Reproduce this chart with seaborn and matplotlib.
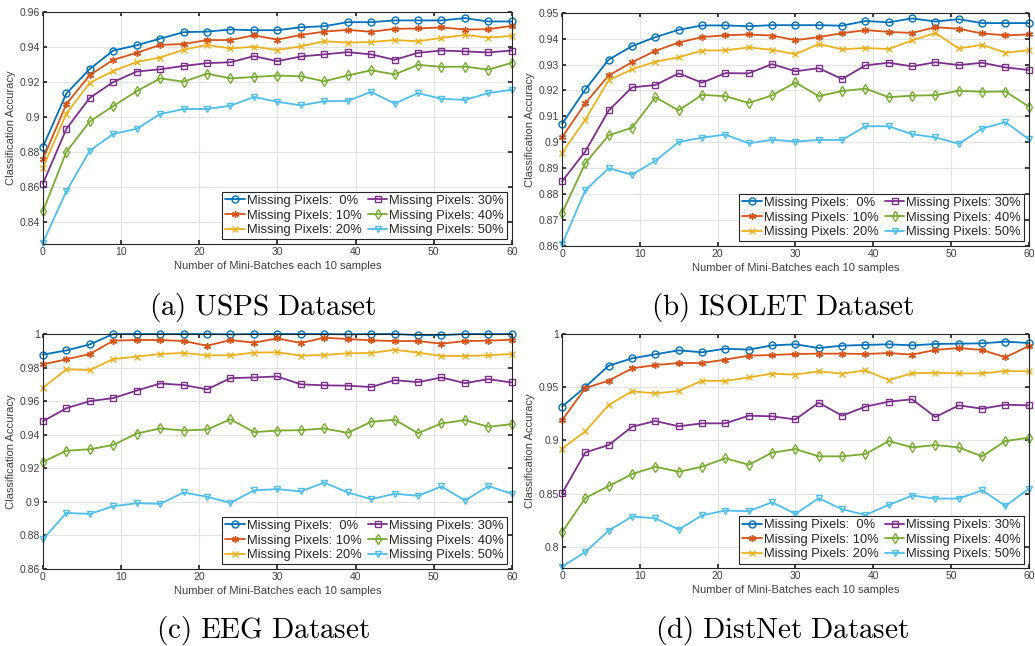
import pandas as pd
import seaborn as sns
import matplotlib
matplotlib.use("Agg")
import matplotlib.pyplot as plt
from matplotlib.ticker import FuncFormatter

# --- data ---
batches = list(range(0, 61, 3))
levels = ["Missing Pixels:  0%", "Missing Pixels: 10%", "Missing Pixels: 20%",
          "Missing Pixels: 30%", "Missing Pixels: 40%", "Missing Pixels: 50%"]

usps_0 = [0.883, 0.9135, 0.9275, 0.938, 0.941, 0.9448, 0.9485, 0.9488, 0.950, 0.9496, 0.9496,
          0.9513, 0.9519, 0.9542, 0.9542, 0.9552, 0.9552, 0.9552, 0.9565, 0.9546, 0.9546]
usps_10 = [0.876, 0.9075, 0.924, 0.9327, 0.9367, 0.9412, 0.9417, 0.944, 0.944, 0.9467, 0.9442,
           0.9469, 0.9488, 0.9498, 0.9487, 0.9504, 0.9506, 0.9512, 0.950, 0.9502, 0.9521]
usps_20 = [0.871, 0.902, 0.9196, 0.9263, 0.9315, 0.934, 0.9385, 0.9412, 0.9392, 0.9402, 0.9383,
           0.9404, 0.9433, 0.9425, 0.9429, 0.944, 0.9433, 0.9452, 0.9469, 0.9454, 0.9463]
usps_30 = [0.862, 0.8933, 0.911, 0.920, 0.926, 0.9273, 0.9292, 0.9308, 0.9313, 0.9348, 0.9319,
           0.9346, 0.9358, 0.9371, 0.9358, 0.9327, 0.9367, 0.938, 0.9375, 0.9369, 0.938]
usps_40 = [0.8462, 0.8802, 0.8975, 0.9063, 0.9148, 0.9221, 0.9202, 0.9248, 0.9221, 0.9229, 0.9237,
           0.9233, 0.9204, 0.9238, 0.9267, 0.9244, 0.9298, 0.9287, 0.9288, 0.9271, 0.931]
usps_50 = [0.8283, 0.8577, 0.8808, 0.8904, 0.8933, 0.9017, 0.9046, 0.9046, 0.9065, 0.9115, 0.9087,
           0.9067, 0.909, 0.9092, 0.9144, 0.9077, 0.9137, 0.9104, 0.9098, 0.9137, 0.9156]

isolet_0 = [0.9071, 0.9204, 0.9319, 0.9371, 0.9406, 0.9434, 0.9451, 0.9451, 0.9448, 0.9452, 0.9452,
            0.9452, 0.945, 0.9468, 0.9463, 0.9478, 0.9466, 0.9475, 0.946, 0.946, 0.946]
isolet_10 = [0.9019, 0.9151, 0.9258, 0.9309, 0.9353, 0.9385, 0.9406, 0.9413, 0.9416, 0.9412, 0.9394,
             0.9406, 0.9421, 0.9433, 0.9426, 0.9422, 0.9444, 0.9438, 0.942, 0.9413, 0.9416]
isolet_20 = [0.8959, 0.9088, 0.9239, 0.9282, 0.9311, 0.9328, 0.9354, 0.9355, 0.9366, 0.9357, 0.934,
             0.9379, 0.9359, 0.9364, 0.936, 0.9393, 0.9422, 0.9362, 0.9376, 0.9346, 0.9355]
isolet_30 = [0.8849, 0.8965, 0.9123, 0.9212, 0.9221, 0.9266, 0.923, 0.9267, 0.9266, 0.9302, 0.9274,
             0.9286, 0.9244, 0.9297, 0.9307, 0.9293, 0.9309, 0.9298, 0.9307, 0.9289, 0.9279]
isolet_40 = [0.8727, 0.892, 0.9027, 0.9056, 0.9174, 0.9123, 0.9183, 0.9178, 0.9152, 0.9181, 0.9231,
             0.9178, 0.9198, 0.9207, 0.9174, 0.918, 0.9182, 0.9199, 0.9195, 0.9196, 0.9138]
isolet_50 = [0.8606, 0.8815, 0.890, 0.8875, 0.8929, 0.9001, 0.9018, 0.903, 0.8996, 0.901, 0.9003,
             0.9009, 0.9009, 0.9062, 0.9062, 0.9031, 0.9019, 0.8994, 0.9053, 0.9078, 0.9012]

eeg_0 = [0.9877, 0.9902, 0.9938, 1.0, 1.0, 1.0, 1.0, 1.0, 0.9998, 1.0, 1.0,
         1.0, 1.0, 0.9998, 1.0, 1.0, 0.9993, 0.9993, 1.0, 1.0, 1.0]
eeg_10 = [0.9819, 0.9849, 0.9881, 0.996, 0.9964, 0.9964, 0.9958, 0.993, 0.9964, 0.9948, 0.9974,
          0.9946, 0.9978, 0.997, 0.9962, 0.9958, 0.9958, 0.9942, 0.9958, 0.996, 0.9966]
eeg_20 = [0.968, 0.9789, 0.9785, 0.9851, 0.9865, 0.9881, 0.9887, 0.9873, 0.9873, 0.9889, 0.9891,
          0.9871, 0.9875, 0.9885, 0.9887, 0.9906, 0.9889, 0.9869, 0.9869, 0.9873, 0.9881]
eeg_30 = [0.948, 0.9558, 0.960, 0.9618, 0.9663, 0.9705, 0.9696, 0.967, 0.9737, 0.9741, 0.9747,
          0.970, 0.9694, 0.9692, 0.9684, 0.9725, 0.9713, 0.9741, 0.9707, 0.9731, 0.9711]
eeg_40 = [0.9238, 0.9305, 0.9313, 0.9339, 0.9407, 0.9437, 0.9425, 0.9431, 0.9492, 0.9415, 0.9425,
          0.9427, 0.9437, 0.9411, 0.9477, 0.9489, 0.9409, 0.9467, 0.9487, 0.9447, 0.9463]
eeg_50 = [0.8777, 0.8934, 0.8928, 0.8974, 0.8992, 0.8988, 0.9056, 0.903, 0.8994, 0.9068, 0.9076,
          0.9062, 0.9115, 0.9056, 0.9016, 0.9048, 0.9036, 0.9092, 0.9008, 0.9094, 0.9048]

distnet_0 = [0.9317, 0.9502, 0.9702, 0.9771, 0.9809, 0.9846, 0.9828, 0.9862, 0.9853, 0.9893, 0.9903,
             0.9868, 0.989, 0.9897, 0.9903, 0.9893, 0.9906, 0.9909, 0.9912, 0.9928, 0.9915]
distnet_10 = [0.9188, 0.9492, 0.9561, 0.9677, 0.9708, 0.9727, 0.9727, 0.9759, 0.9796, 0.9802, 0.9812,
              0.9815, 0.9815, 0.9812, 0.9821, 0.9806, 0.985, 0.9868, 0.985, 0.9781, 0.9887]
distnet_20 = [0.8922, 0.9085, 0.9332, 0.9461, 0.9442, 0.9464, 0.9561, 0.9558, 0.9592, 0.9627, 0.9618,
              0.9649, 0.9627, 0.9658, 0.9567, 0.963, 0.9636, 0.963, 0.963, 0.9652, 0.9649]
distnet_30 = [0.8501, 0.8887, 0.8956, 0.9128, 0.9182, 0.9132, 0.916, 0.916, 0.9232, 0.9226, 0.9197,
              0.9354, 0.9232, 0.9317, 0.9364, 0.9386, 0.9219, 0.9329, 0.9298, 0.9335, 0.9329]
distnet_40 = [0.8135, 0.8458, 0.857, 0.8683, 0.8752, 0.8705, 0.8752, 0.8831, 0.8771, 0.8884, 0.8918,
              0.885, 0.885, 0.8871, 0.8994, 0.8934, 0.8956, 0.8934, 0.885, 0.8994, 0.9025]
distnet_50 = [0.7813, 0.7951, 0.8152, 0.8284, 0.8268, 0.8161, 0.8296, 0.834, 0.8334, 0.8418, 0.8309,
              0.8456, 0.8353, 0.8299, 0.8393, 0.8481, 0.8453, 0.8453, 0.8531, 0.8384, 0.8544]

captions = ["(a) USPS Dataset", "(b) ISOLET Dataset", "(c) EEG Dataset", "(d) DistNet Dataset"]

# MATLAB default colour order and markers
colors = ["#0072BD", "#D95319", "#EDB120", "#7E2F8E", "#77AC30", "#4DBEEE"]
markers = ["o", (6, 2, 0), "x", "s", "d", "v"]

panels = [
    (captions[0], [usps_0, usps_10, usps_20, usps_30, usps_40, usps_50],
     (0.8275, 0.96), [0.84, 0.86, 0.88, 0.90, 0.92, 0.94, 0.96]),
    (captions[1], [isolet_0, isolet_10, isolet_20, isolet_30, isolet_40, isolet_50],
     (0.86, 0.95), [0.86, 0.87, 0.88, 0.89, 0.90, 0.91, 0.92, 0.93, 0.94, 0.95]),
    (captions[2], [eeg_0, eeg_10, eeg_20, eeg_30, eeg_40, eeg_50],
     (0.86, 1.0), [0.86, 0.88, 0.90, 0.92, 0.94, 0.96, 0.98, 1.0]),
    (captions[3], [distnet_0, distnet_10, distnet_20, distnet_30, distnet_40, distnet_50],
     (0.78, 1.0), [0.80, 0.85, 0.90, 0.95, 1.0]),
]

sns.set_theme(style="whitegrid")
plt.rcParams.update({
    "font.family": ["Liberation Sans", "DejaVu Sans"],
    "mathtext.fontset": "cm",
    "axes.edgecolor": "#262626",
    "axes.linewidth": 0.8,
    "grid.color": "#e3e3e3",
    "grid.linewidth": 0.8,
    "xtick.direction": "in",
    "ytick.direction": "in",
    "xtick.color": "#262626",
    "ytick.color": "#262626",
    "xtick.major.size": 3,
    "ytick.major.size": 3,
    "xtick.top": True,
    "ytick.right": True,
    "xtick.bottom": True,
    "ytick.left": True,
})

fig = plt.figure(figsize=(10.35, 6.46), dpi=100)
positions = [
    [0.0415, 0.6223, 0.4530, 0.3591],
    [0.5430, 0.6192, 0.4510, 0.3611],
    [0.0415, 0.1192, 0.4530, 0.3638],
    [0.5430, 0.1207, 0.4510, 0.3623],
]
caption_xy = [(0.254, 0.524), (0.756, 0.524), (0.254, 0.024), (0.756, 0.024)]

for (cap, series, ylim, yticks), pos, cxy in zip(panels, positions, caption_xy):
    ax = fig.add_axes(pos)
    rows = []
    for lab, vals in zip(levels, series):
        for b, v in zip(batches, vals):
            rows.append({"Batches": b, "Accuracy": v, "Level": lab})
    df = pd.DataFrame(rows)

    sns.lineplot(data=df, x="Batches", y="Accuracy", hue="Level",
                 palette=colors, linewidth=1.3, legend=False, ax=ax)
    # MATLAB-like markers: open symbols in the line colour
    for line, m in zip(ax.lines, markers):
        line.set_marker(m)
        line.set_markersize(5)
        line.set_markeredgecolor(line.get_color())
        line.set_markerfacecolor("none")
        line.set_markeredgewidth(1.0)
        line.set_clip_on(False)

    ax.set_xlim(0, 60)
    ax.set_ylim(*ylim)
    ax.set_xticks(range(0, 61, 10))
    ax.set_yticks(yticks)
    ax.yaxis.set_major_formatter(FuncFormatter(lambda v, p: f"{v:g}"))
    ax.tick_params(labelsize=7.5, pad=2, labelcolor="#404040")
    ax.set_xlabel("Number of Mini-Batches each 10 samples", fontsize=8, color="#404040", labelpad=3)
    ax.set_ylabel("Classification Accuracy", fontsize=8, color="#404040", labelpad=3)
    for s in ax.spines.values():
        s.set_visible(True)
        s.set_color("#262626")

    leg = ax.legend(ax.lines, levels, ncol=2, loc="lower right", fontsize=9.3,
                    frameon=True, fancybox=False, framealpha=1, edgecolor="#262626",
                    handlelength=1.5, handletextpad=0.15, columnspacing=0.5,
                    borderpad=0.25, labelspacing=0.2, borderaxespad=0.35)
    leg.get_frame().set_linewidth(0.8)
    leg.set_zorder(5)

    words = cap.replace(" ", r"\ ")
    fig.text(cxy[0], cxy[1], rf"$\mathrm{{{words}}}$", ha="center", va="center",
             fontsize=21, color="black")

fig.savefig("out.png", dpi=100)
